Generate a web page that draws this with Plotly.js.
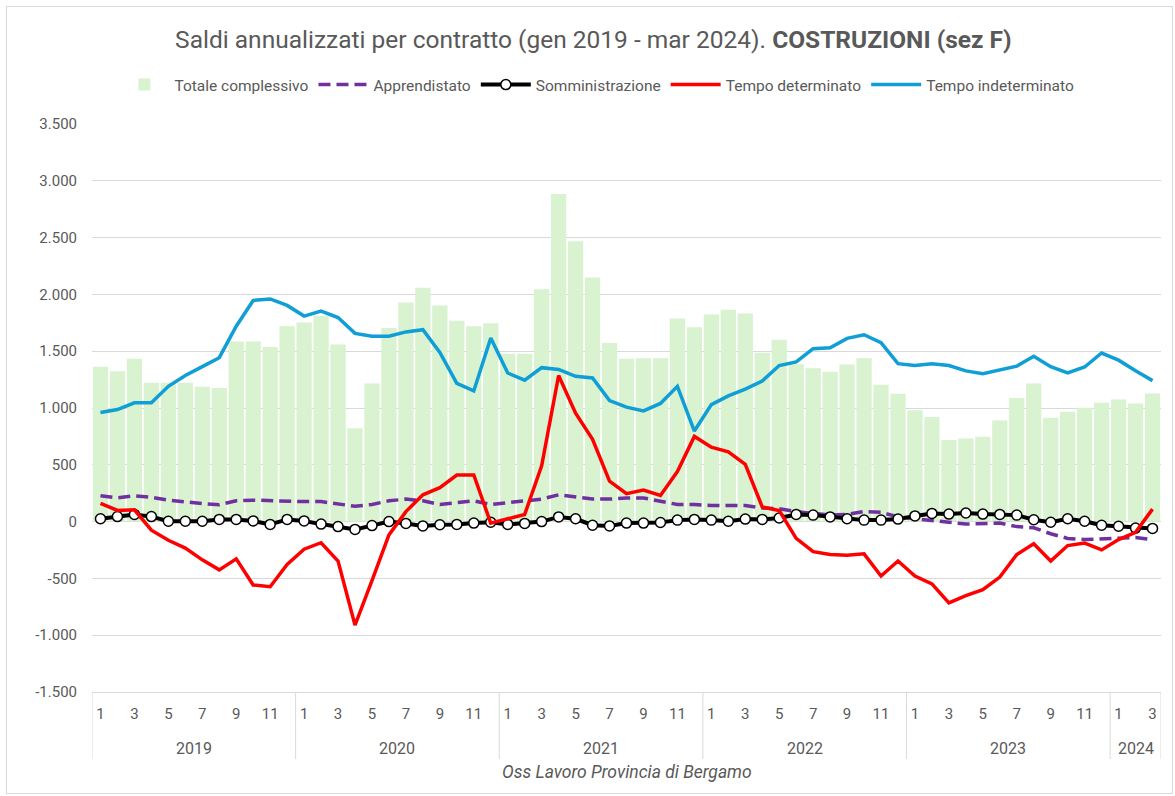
<!DOCTYPE html>
<html>
<head>
<meta charset="utf-8">
<script src="https://cdn.plot.ly/plotly-3.0.1.min.js"></script>
<style>
  html, body { margin: 0; padding: 0; background: #ffffff; }
  #wrap { position: relative; width: 1175px; height: 796px; }
  #chart { width: 1175px; height: 796px; }
  #frame { position: absolute; left: 6px; top: 6px; right: 2px; bottom: 2px; border: 1px solid #d9d9d9; pointer-events: none; }
</style>
</head>
<body>
<div id="wrap"><div id="chart"></div><div id="frame"></div></div>
<script>
// ---- Data ----
const years = [2019, 2020, 2021, 2022, 2023, 2024];
const monthsPerYear = [12, 12, 12, 12, 12, 3];

const totaleComplessivo = [
  1364, 1323, 1434, 1223, 1223, 1223, 1188, 1175, 1585, 1585, 1538, 1720,
  1752, 1812, 1560, 822, 1216, 1705, 1928, 2058, 1903, 1768, 1720, 1746,
  1478, 1478, 2045, 2883, 2467, 2149, 1572, 1434, 1437, 1437, 1787, 1711,
  1824, 1865, 1831, 1487, 1601, 1386, 1349, 1320, 1383, 1437, 1204, 1125,
  980, 920, 718, 731, 747, 889, 1087, 1216, 914, 967, 1002, 1046,
  1074, 1040, 1128
];
const apprendistato = [
  227, 208, 227, 214, 189, 170, 158, 148, 183, 189, 183, 176,
  176, 176, 158, 135, 151, 183, 198, 183, 151, 167, 183, 151,
  167, 189, 198, 236, 214, 198, 198, 208, 208, 183, 151, 151,
  142, 142, 142, 120, 113, 88, 72, 57, 63, 88, 82, 41,
  25, 6, -6, -22, -16, -13, -44, -54, -107, -148, -158, -151,
  -139, -139, -158
];
const somministrazione = [
  25, 44, 63, 44, 3, 3, 3, 19, 19, 6, -25, 19,
  6, -22, -44, -69, -35, 0, -16, -38, -28, -25, -13, -6,
  -25, -16, 0, 41, 25, -32, -38, -13, -13, -8, 13, 19,
  13, 3, 22, 19, 32, 63, 57, 41, 25, 13, 13, 22,
  50, 72, 66, 76, 66, 63, 57, 16, -6, 25, 3, -32,
  -41, -57, -60
];
const tempoDeterminato = [
  161, 98, 104, -76, -164, -233, -337, -425, -328, -558, -573, -378,
  -243, -186, -347, -911, -520, -117, 88, 236, 299, 410, 410, -13,
  25, 63, 492, 1286, 955, 725, 356, 246, 277, 230, 441, 750,
  655, 614, 504, 129, 98, -148, -265, -290, -296, -284, -479, -347,
  -479, -548, -715, -652, -599, -488, -290, -195, -347, -211, -189, -249,
  -158, -95, 110
];
const tempoIndeterminato = [
  961, 986, 1046, 1046, 1191, 1286, 1364, 1443, 1720, 1947, 1960, 1903,
  1809, 1853, 1796, 1657, 1632, 1632, 1670, 1689, 1490, 1216, 1150, 1616,
  1308, 1245, 1355, 1339, 1279, 1264, 1065, 1008, 974, 1040, 1191, 797,
  1030, 1106, 1166, 1238, 1374, 1405, 1522, 1531, 1613, 1645, 1576, 1390,
  1374, 1390, 1374, 1327, 1301, 1336, 1368, 1456, 1364, 1308, 1361, 1484,
  1421, 1327, 1241
];
const yTickVals = [-1500, -1000, -500, 0, 500, 1000, 1500, 2000, 2500, 3000, 3500];
const yTickText = ['-1.500', '-1.000', '-500', '0', '500', '1.000', '1.500', '2.000', '2.500', '3.000', '3.500'];

const titleText = 'Saldi annualizzati per contratto (gen 2019 - mar 2024). <b>COSTRUZIONI (sez F)</b>';
const sourceText = 'Oss Lavoro Provincia di Bergamo';

// ---- Derived category positions ----
const monthNum = [];
const yearOf = [];
years.forEach((y, k) => { for (let m = 1; m <= monthsPerYear[k]; m++) { monthNum.push(m); yearOf.push(y); } });
const idx = monthNum.map((_, i) => i);
const tickVals = idx.filter(i => monthNum[i] % 2 === 1);
const tickText = tickVals.map(i => String(monthNum[i]));

const FONT = '"Liberation Sans Narrow", Roboto, "Noto Sans", sans-serif';
const GREY = '#595959';

const traces = [
  { type: 'bar', name: 'Totale complessivo', x: idx, y: totaleComplessivo,
    marker: { color: '#d9f2d0' }, hoverinfo: 'y' },
  { type: 'scatter', mode: 'lines', name: 'Apprendistato', x: idx, y: apprendistato,
    line: { color: '#7030a0', width: 3.5, dash: '12px,6px' } },
  { type: 'scatter', mode: 'lines+markers', name: 'Somministrazione', x: idx, y: somministrazione,
    line: { color: '#000000', width: 4 },
    marker: { symbol: 'circle', size: 10, color: '#ffffff', line: { color: '#000000', width: 1.5 } } },
  { type: 'scatter', mode: 'lines', name: 'Tempo determinato', x: idx, y: tempoDeterminato,
    line: { color: '#ff0000', width: 3.5 } },
  { type: 'scatter', mode: 'lines', name: 'Tempo indeterminato', x: idx, y: tempoIndeterminato,
    line: { color: '#0f9ed5', width: 3.5 } }
];

// Year group dividers and labels
const shapes = [];
const annotations = [];
const divDepth = -67 / 568;
let start = 0;
years.forEach((y, k) => {
  const n = monthsPerYear[k];
  shapes.push({ type: 'line', xref: 'x', yref: 'paper', x0: start - 0.5, x1: start - 0.5, y0: 0, y1: divDepth,
    line: { color: '#d9d9d9', width: 1 } });
  annotations.push({ xref: 'x', yref: 'paper', x: start + (n - 1) / 2, y: 0, yanchor: 'middle', yshift: -56,
    text: String(y), showarrow: false, font: { family: FONT, size: 16, color: GREY } });
  start += n;
});
shapes.push({ type: 'line', xref: 'x', yref: 'paper', x0: start - 0.5, x1: start - 0.5, y0: 0, y1: divDepth,
  line: { color: '#d9d9d9', width: 1 } });
annotations.push({ xref: 'paper', yref: 'paper', x: 0.5, y: 0, yanchor: 'middle', yshift: -80,
  text: '<i>' + sourceText + '</i>', showarrow: false, font: { family: FONT, size: 17.5, color: GREY } });

const layout = {
  width: 1175, height: 796,
  margin: { l: 92, r: 14, t: 124, b: 104 },
  paper_bgcolor: '#ffffff', plot_bgcolor: '#ffffff',
  font: { family: FONT, color: GREY },
  title: { text: titleText, x: 0.505, xanchor: 'center', y: 1 - 39 / 796, yanchor: 'middle',
    font: { family: FONT, size: 24.5, color: GREY } },
  showlegend: true,
  legend: { orientation: 'h', xref: 'container', yref: 'container', x: 0.508, xanchor: 'center',
    y: 1 - 85 / 796, yanchor: 'middle', font: { family: FONT, size: 15.5, color: GREY },
    traceorder: 'normal', itemwidth: 50 },
  bargap: 0.1,
  xaxis: { type: 'linear', range: [-0.5, idx.length - 0.5], tickmode: 'array', tickvals: tickVals, ticktext: tickText,
    showgrid: false, zeroline: false, showline: true, linecolor: '#d9d9d9', linewidth: 1, ticks: '',
    tickfont: { family: FONT, size: 15, color: GREY }, ticklabelstandoff: 8, fixedrange: true },
  yaxis: { range: [-1500, 3500], tickmode: 'array', tickvals: yTickVals, ticktext: yTickText,
    showgrid: true, gridcolor: '#d9d9d9', gridwidth: 1, zeroline: false, showline: false, ticks: '',
    tickfont: { family: FONT, size: 15, color: GREY }, ticklabelstandoff: 14, fixedrange: true },
  shapes: shapes,
  annotations: annotations
};

Plotly.newPlot('chart', traces, layout, { displayModeBar: false, staticPlot: true });
</script>
</body>
</html>
